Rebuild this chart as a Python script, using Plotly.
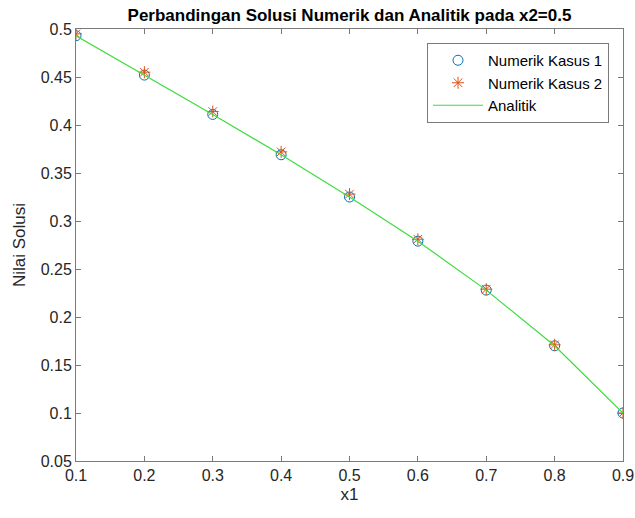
import plotly.graph_objects as go

x1 = [0.1, 0.2, 0.3, 0.4, 0.5, 0.6, 0.7, 0.8, 0.9]
numerik_kasus1 = [0.493, 0.452, 0.411, 0.369, 0.325, 0.279, 0.228, 0.170, 0.100]
numerik_kasus2 = [0.495, 0.455, 0.414, 0.372, 0.328, 0.281, 0.229, 0.171, 0.100]
analitik = [0.493, 0.452, 0.411, 0.369, 0.325, 0.279, 0.228, 0.170, 0.100]

xticks = [0.1, 0.2, 0.3, 0.4, 0.5, 0.6, 0.7, 0.8, 0.9]
yticks = [0.05, 0.1, 0.15, 0.2, 0.25, 0.3, 0.35, 0.4, 0.45, 0.5]

FONT = "Liberation Sans, Arial, sans-serif"

fig = go.Figure()
fig.add_trace(go.Scatter(x=x1, y=numerik_kasus1, mode="markers", name="Numerik Kasus 1",
                         marker=dict(symbol="circle-open", size=10, color="#0072BD", line=dict(width=1))))
fig.add_trace(go.Scatter(x=x1, y=numerik_kasus2, mode="markers", name="Numerik Kasus 2",
                         marker=dict(symbol="asterisk-open", size=10, color="#D95319", line=dict(width=1))))
fig.add_trace(go.Scatter(x=x1, y=analitik, mode="lines", name="Analitik",
                         line=dict(color="#3ddc3d", width=1.2)))

axis_common = dict(showgrid=False, zeroline=False, showline=True, linecolor="#7a7a7a", linewidth=1,
                   mirror="ticks", ticks="inside", ticklen=5, tickcolor="#7a7a7a", automargin=False,
                   tickfont=dict(family=FONT, size=16, color="#262626"))

L, R, T, B = 76, 12, 29, 57
W, H = 635, 518

fig.update_layout(
    width=W, height=H,
    margin=dict(l=L, r=R, t=T, b=B),
    paper_bgcolor="white", plot_bgcolor="white",
    title=dict(text="<b>Perbandingan Solusi Numerik dan Analitik pada x2=0.5</b>",
               x=(L + W - R) / 2 / W, xanchor="center", y=1 - 15 / H, yanchor="middle",
               font=dict(family=FONT, size=17, color="black")),
    xaxis=dict(range=[0.1, 0.9], tickvals=xticks, ticktext=[f"{v:g}" for v in xticks],
               title=dict(text="x1", font=dict(family=FONT, size=17, color="#262626"), standoff=4),
               **axis_common),
    yaxis=dict(range=[0.05, 0.5], tickvals=yticks, ticktext=[f"{v:g}" for v in yticks],
               title=dict(text="Nilai Solusi", font=dict(family=FONT, size=17, color="#262626"), standoff=10),
               **axis_common),
    legend=dict(x=(609 - L) / (W - L - R), y=(H - B - 43) / (H - T - B), xanchor="right", yanchor="top",
                bgcolor="white", bordercolor="#7a7a7a", borderwidth=1,
                font=dict(family=FONT, size=15, color="black"),
                tracegroupgap=0, itemwidth=50),
    showlegend=True,
)

fig.write_html("out.html", config={"displayModeBar": False},
               post_script="document.body.style.margin='0';document.body.style.overflow='hidden';")
